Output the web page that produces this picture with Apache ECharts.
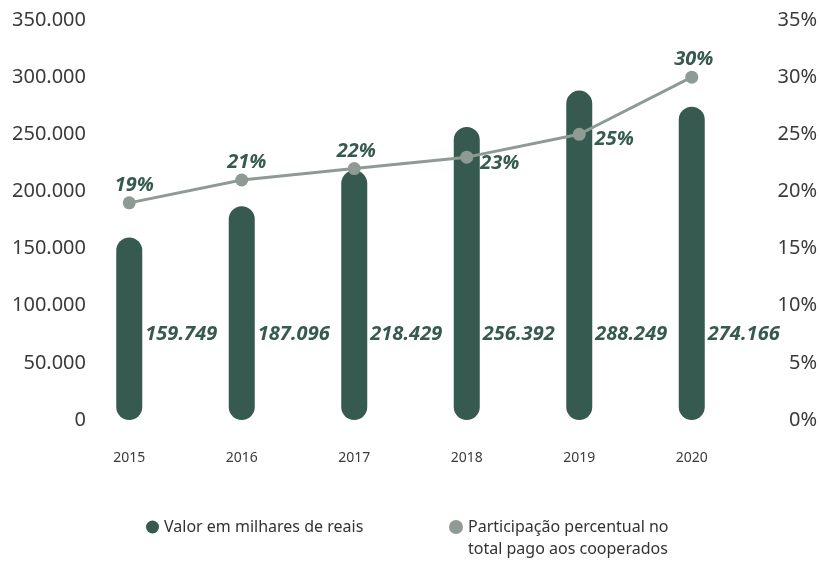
<!DOCTYPE html>
<html>
<head>
<meta charset="utf-8">
<script src="https://cdn.jsdelivr.net/npm/echarts@6/dist/echarts.min.js"></script>
<style>
  html, body { margin: 0; padding: 0; background: #ffffff; }
  #chart { width: 820px; height: 561px; }
</style>
</head>
<body>
<div id="chart"></div>
<script>
// Anos e valores
const years = ['2015', '2016', '2017', '2018', '2019', '2020'];
const valorMilharesReais = [159749, 187096, 218429, 256392, 288249, 274166];
const participacaoPercentual = [19, 21, 22, 23, 25, 30];
const percentLabelPositions = ['top', 'top', 'top', 'right', 'right', 'top'];

const barName = 'Valor em milhares de reais';
const lineName = 'Participação percentual no total pago aos cooperados';

const DARK = '#365a50';
const GREY = '#8e9a93';
const FONT = '"Noto Sans", "DejaVu Sans", sans-serif';

function fmtThousands(v) {
  return String(v).replace(/\B(?=(\d{3})+(?!\d))/g, '.');
}

// small nudges for the percentage labels, per point
const percentLabelOffsets = [[5, 0], [5, 0], [2, 0], [0, 6], [2, 5], [2, 0]];

const chart = echarts.init(document.getElementById('chart'), null, { renderer: 'canvas' });

chart.setOption({
  animation: false,
  backgroundColor: '#ffffff',
  textStyle: { fontFamily: FONT },
  grid: { left: 73, right: 72, top: 20, bottom: 141 },
  legend: [
    {
      data: [barName],
      left: 141, top: 514,
      icon: 'circle', itemWidth: 13, itemHeight: 13, itemGap: 6,
      textStyle: { fontFamily: FONT, fontSize: 16, color: '#333333' }
    },
    {
      data: [lineName],
      left: 444, top: 489,
      icon: 'circle', itemWidth: 14, itemHeight: 14, itemGap: 6,
      // leading empty line keeps the icon level with the first text line
      formatter: () => '\nParticipação percentual no\ntotal pago aos cooperados',
      textStyle: { fontFamily: FONT, fontSize: 16, color: '#333333', lineHeight: 22 }
    }
  ],
  xAxis: {
    type: 'category',
    data: years,
    axisLine: { show: false },
    axisTick: { show: false },
    axisLabel: { margin: 31, fontSize: 14, color: '#3a3a3a', fontFamily: FONT }
  },
  yAxis: [
    {
      type: 'value', min: 0, max: 350000, interval: 50000,
      splitLine: { show: false }, axisLine: { show: false }, axisTick: { show: false },
      axisLabel: {
        margin: -13, fontSize: 20, color: '#3a3a3a', fontFamily: FONT,
        formatter: v => fmtThousands(v)
      }
    },
    {
      type: 'value', min: 0, max: 35, interval: 5,
      splitLine: { show: false }, axisLine: { show: false }, axisTick: { show: false },
      axisLabel: {
        margin: 69, align: 'right', fontSize: 20, color: '#3a3a3a', fontFamily: FONT,
        formatter: v => v + '%'
      }
    }
  ],
  series: [
    {
      name: barName,
      type: 'bar',
      data: valorMilharesReais,
      barWidth: 26,
      itemStyle: { color: DARK, borderRadius: 13 },
      label: {
        show: true,
        position: 'insideBottom',
        distance: 0,
        offset: [52, -74],
        fontFamily: FONT, fontSize: 20, fontWeight: 'bold', fontStyle: 'italic',
        lineHeight: 24, color: DARK,
        formatter: p => fmtThousands(p.value)
      },
      z: 2
    },
    {
      name: lineName,
      type: 'line',
      yAxisIndex: 1,
      data: participacaoPercentual.map((v, i) => ({
        value: v,
        label: {
          position: percentLabelPositions[i],
          offset: percentLabelOffsets[i],
          distance: percentLabelPositions[i] === 'right' ? 7 : 1
        }
      })),
      symbol: 'circle',
      symbolSize: 13,
      lineStyle: { color: GREY, width: 3 },
      itemStyle: { color: GREY },
      label: {
        show: true,
        fontFamily: FONT, fontSize: 20, fontWeight: 'bold', fontStyle: 'italic',
        color: DARK,
        formatter: p => p.value + '%'
      },
      z: 3
    }
  ]
});
</script>
</body>
</html>
